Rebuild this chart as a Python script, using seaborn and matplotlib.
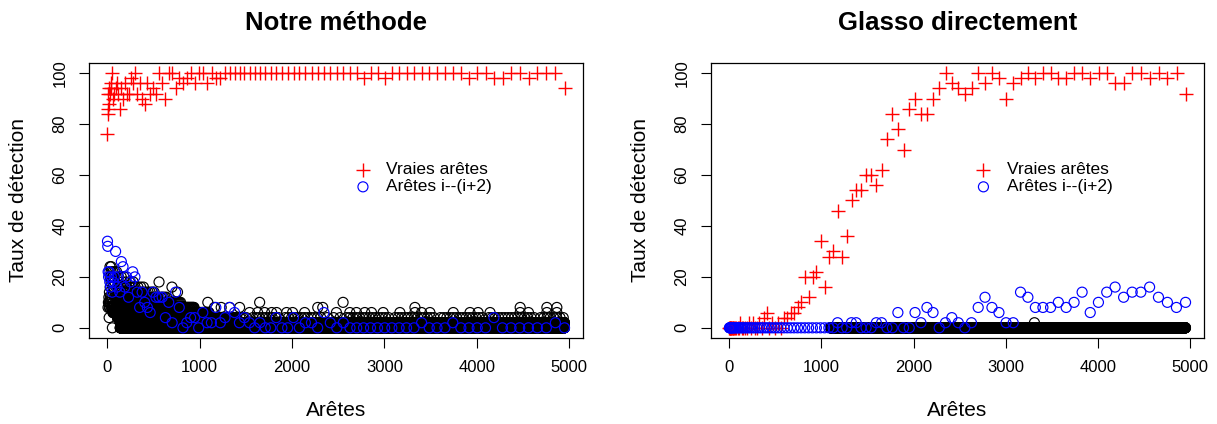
import numpy as np
import matplotlib
matplotlib.use("Agg")
import matplotlib.pyplot as plt
import seaborn as sns

# ---------------- data ----------------
# edges of a 100-node chain graph, numbered column-wise over the upper triangle:
# edge (i, j), i<j, has index (j-1)(j-2)/2 + i  (4950 edges)
N_NODES = 100
n_edges = N_NODES * (N_NODES - 1) // 2
j_true = np.arange(2, N_NODES + 1)          # true edges (j-1)--j
x_true = j_true * (j_true - 1) // 2
j_two = np.arange(3, N_NODES + 1)           # edges (j-2)--j
x_two = j_two * (j_two - 1) // 2 - 1

# --- "Notre méthode": detection rate (%) of the true edges
left_true = [76, 84, 86, 92, 88, 94, 92, 96, 94, 100,
             90, 92, 94, 96, 92,
             86, 94, 90, 96, 92,
             92, 98, 96, 100, 92,
             96, 90, 88, 96, 92,
             94, 92, 100, 96, 90,
             100, 100, 94, 98,
             96, 98, 100, 96, 100, 100, 96,
             100, 98, 98, 100,
             100, 100, 100, 100, 100, 100, 100, 100, 100, 100,
             100, 100, 100, 100, 100, 100, 100, 100, 100, 100,
             100, 100, 100, 98, 100, 100, 98, 100, 100, 100,
             100, 100, 100, 100, 100, 100, 100, 98, 100, 100,
             98, 98, 100, 100, 98, 100, 100, 100, 94]
# --- "Notre méthode": detection rate (%) of the edges i--(i+2)
left_two = [34, 32, 22, 20, 22, 18, 16, 20, 14,
            18, 20, 30, 16, 20, 14, 26, 24, 16, 20,
            12, 18, 22, 20, 14, 8, 14, 10, 8, 6,
            14, 12, 12, 12, 4, 10, 2, 14, 8, 0,
            2, 4, 4, 0, 6, 2, 2, 8, 2, 4,
            8, 6, 2, 4, 2, 0, 2, 0, 0, 4,
            0, 0, 4, 0, 2, 2, 0, 6, 2, 0,
            2, 0, 0, 0, 0, 0, 0, 0, 0, 0,
            0, 2, 0, 0, 0, 2, 0, 0, 0, 0,
            4, 0, 0, 0, 0, 0, 0, 2, 0]
# --- "Glasso directement": true edges
right_true = [0, 0, 0, 0, 0, 0, 0, 0, 0, 0, 0, 0, 0, 0,
              2, 0, 0, 0, 0, 2, 0, 2, 0, 0, 2, 0,
              4, 6, 0, 2, 0, 2, 0, 4, 4, 6, 6, 8, 10,
              20, 12, 20, 22, 34, 16, 28, 30, 46, 28, 36, 50, 54, 54, 60,
              60, 56, 62, 74, 84, 78, 70, 86, 90, 84, 84, 90, 94, 100,
              96, 94, 92, 94, 100, 96, 100, 98, 90, 96, 98, 100, 98, 100,
              100, 98, 98, 100, 100, 98, 100, 100, 96, 96, 100, 100, 98,
              100, 98, 100, 92]
# --- "Glasso directement": edges i--(i+2)
right_two = [0] * 46 + [
    2, 0, 0, 2, 2, 0, 0, 0, 2, 2, 0, 0, 6, 0, 0, 6, 2, 8, 6, 0, 2,
    4, 2, 0, 2, 8, 12, 8, 6, 2, 2, 14, 12, 8, 8, 8, 10, 8, 10, 14, 6,
    10, 14, 16, 12, 14, 14, 16, 12, 10, 8, 10]

# --- all other edges (black circles): the cloud is described level by level
# (rate level, first edge, last edge, one circle every k edges) + isolated circles
left_band_level = [0, 2, 4, 4, 6, 8, 10, 12, 14, 16, 18, 20, 22, 24]
left_band_from = [140, 140, 110, 1400, 60, 1, 1, 1, 1, 1, 1, 1, 1, 1]
left_band_to = [4950, 4950, 1400, 4950, 1100, 950, 800, 650, 520, 420, 320, 200, 110, 50]
left_band_every = [1, 1, 2, 35, 4, 7, 11, 16, 22, 30, 40, 30, 20, 14]
left_iso_x = [20, 55, 1088, 1160, 1233, 1323, 1432, 1649,
              1540, 1627, 1703, 1779, 1833, 1941, 2006, 2136, 2278, 2332,
              2480, 2552, 2625, 2697, 2787, 2860, 2986, 3167, 3330, 3330,
              3402, 3492, 3745, 3926, 4013, 4143, 4469, 4469, 4559, 4758,
              4758, 4866, 4866, 700, 760, 560]
left_iso_y = [4, 0, 10, 8, 8, 8, 8, 10,
              6, 6, 6, 6, 6, 6, 6, 6, 8, 8,
              6, 10, 6, 6, 6, 6, 6, 6, 8, 6,
              6, 6, 6, 6, 6, 6, 8, 6, 6, 8,
              6, 8, 6, 16, 14, 18]

right_band_level = [0]
right_band_from = [1100]
right_band_to = [4950]
right_band_every = [1]
right_iso_x = [3310]
right_iso_y = [2]

TITLES = ["Notre méthode", "Glasso directement"]
XLABEL = "Arêtes"
YLABEL = "Taux de détection"
LEG_TRUE = "Vraies arêtes"
LEG_TWO = "Arêtes i--(i+2)"
XTICKS = [0, 1000, 2000, 3000, 4000, 5000]
YTICKS = [0, 20, 40, 60, 80, 100]


def other_edges(levels, starts, ends, every, iso_x, iso_y):
    special = set(x_true.tolist()) | set(x_two.tolist())
    xs, ys = [], []
    for lv, a, b, k in zip(levels, starts, ends, every):
        for e in range(a, b + 1, k):
            if e not in special and 1 <= e <= n_edges:
                xs.append(e)
                ys.append(lv)
    xs += list(iso_x)
    ys += list(iso_y)
    return np.array(xs), np.array(ys)


# ---------------- style ----------------
sns.set_theme(style="ticks")
plt.rcParams["font.family"] = ["Liberation Sans", "DejaVu Sans"]
plt.rcParams.update({
    "axes.edgecolor": "black", "axes.linewidth": 0.9,
    "text.color": "black", "axes.labelcolor": "black",
    "xtick.color": "black", "ytick.color": "black",
})

fig = plt.figure(figsize=(12.17, 4.24), dpi=100)
ax_l = fig.add_axes([89 / 1217, 1 - 338 / 424, 494 / 1217, 275 / 424])
ax_r = fig.add_axes([711 / 1217, 1 - 338 / 424, 493 / 1217, 275 / 424])

panels = [
    (ax_l, left_true, left_two,
     other_edges(left_band_level, left_band_from, left_band_to, left_band_every,
                 left_iso_x, left_iso_y), (0.537, 0.640)),
    (ax_r, right_true, right_two,
     other_edges(right_band_level, right_band_from, right_band_to, right_band_every,
                 right_iso_x, right_iso_y), (0.535, 0.640)),
]

for k, (ax, yt, y2, (bx, by), legpos) in enumerate(panels):
    sns.scatterplot(x=bx, y=by, ax=ax, marker="o", s=52, facecolor="none",
                    edgecolor="black", linewidth=0.85, legend=False)
    sns.scatterplot(x=x_true, y=yt, ax=ax, marker="+", s=90, color="#ff0000",
                    linewidth=1.0, legend=False)
    sns.scatterplot(x=x_two, y=y2, ax=ax, marker="o", s=52, facecolor="none",
                    edgecolor="#0000ff", linewidth=0.85, legend=False)

    ax.set_xlim(-198, 5149)
    ax.set_ylim(-4, 104)
    ax.set_xticks(XTICKS)
    ax.set_yticks(YTICKS)
    ax.set_xticklabels([str(v) for v in XTICKS])
    ax.set_yticklabels([str(v) for v in YTICKS])
    ax.tick_params(axis="both", direction="out", length=7.5, width=0.8,
                   labelsize=12, colors="black", bottom=True, left=True)
    ax.tick_params(axis="x", pad=8)
    ax.tick_params(axis="y", pad=8)
    for lab in ax.get_yticklabels():
        lab.set_rotation(90)
        lab.set_va("center")
    for s in ax.spines.values():
        s.set_visible(True)
        s.set_color("black")
        s.set_linewidth(0.9)

    ax.set_title(TITLES[k], fontsize=18.5, fontweight="bold", pad=24,
                 color="black")
    ax.set_xlabel(XLABEL, fontsize=15)
    ax.set_ylabel(YLABEL, fontsize=15)
    ax.xaxis.set_label_coords(0.5, -0.265)
    ax.xaxis.label.set_va("center")
    ax.yaxis.set_label_coords(-0.142, 0.5)
    ax.yaxis.label.set_va("center")

    cols = ax.collections
    ax.legend([cols[1], cols[2]], [LEG_TRUE, LEG_TWO], loc="upper left",
              bbox_to_anchor=legpos, frameon=False, fontsize=12.5,
              handlelength=1.0, handletextpad=0.85, labelspacing=0.12,
              borderpad=0, borderaxespad=0, scatterpoints=1)

fig.savefig("out.png", dpi=100)
